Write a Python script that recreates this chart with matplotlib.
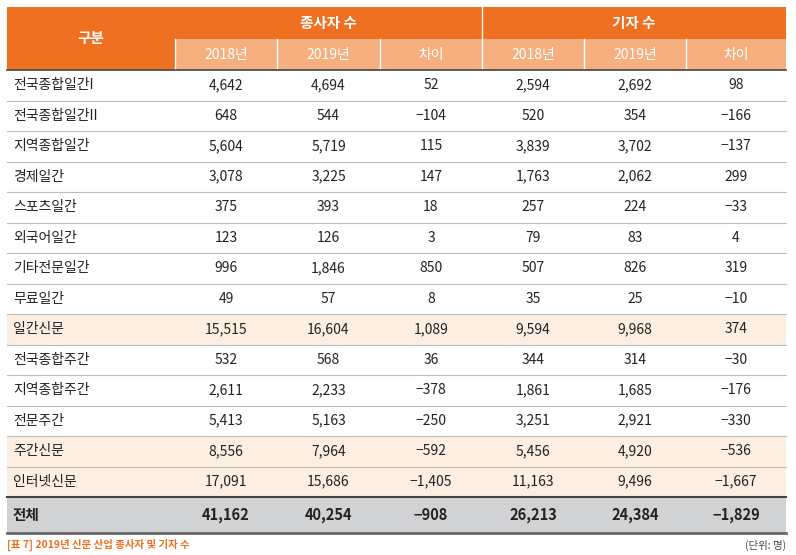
import matplotlib.pyplot as plt
from matplotlib.patches import Rectangle

plt.rcParams['font.family'] = ['Noto Sans CJK KR', 'DejaVu Sans']

categories = ["전국종합일간I", "전국종합일간II", "지역종합일간", "경제일간", "스포츠일간", "외국어일간",
              "기타전문일간", "무료일간", "일간신문", "전국종합주간", "지역종합주간", "전문주간",
              "주간신문", "인터넷신문"]
emp_2018 = ["4,642", "648", "5,604", "3,078", "375", "123", "996", "49", "15,515", "532", "2,611", "5,413", "8,556", "17,091"]
emp_2019 = ["4,694", "544", "5,719", "3,225", "393", "126", "1,846", "57", "16,604", "568", "2,233", "5,163", "7,964", "15,686"]
emp_diff = ["52", "-104", "115", "147", "18", "3", "850", "8", "1,089", "36", "-378", "-250", "-592", "-1,405"]
rep_2018 = ["2,594", "520", "3,839", "1,763", "257", "79", "507", "35", "9,594", "344", "1,861", "3,251", "5,456", "11,163"]
rep_2019 = ["2,692", "354", "3,702", "2,062", "224", "83", "826", "25", "9,968", "314", "1,685", "2,921", "4,920", "9,496"]
rep_diff = ["98", "-166", "-137", "299", "-33", "4", "319", "-10", "374", "-30", "-176", "-330", "-536", "-1,667"]
highlight = ["일간신문", "주간신문", "인터넷신문"]
total = ["전체", "41,162", "40,254", "-908", "26,213", "24,384", "-1,829"]

orange = "#f07022"
light = "#f6b07f"
peach = "#fdeee2"
gray = "#d1d2d4"

fig = plt.figure(figsize=(7.96, 5.55), dpi=100)
ax = fig.add_axes([0, 0, 1, 1])
ax.set_xlim(0, 796)
ax.set_ylim(555, 0)
ax.axis('off')

xs = [7, 175, 277, 380, 482, 584, 686, 786]
h0, h1, h2 = 7, 39, 70
rh = 30.5
tot_top = h2 + rh * len(categories)
tot_bot = tot_top + 36

# header
ax.add_patch(Rectangle((xs[0], h0), xs[-1] - xs[0], h1 - h0, color=orange, lw=0))
ax.add_patch(Rectangle((xs[0], h0), xs[1] - xs[0], h2 - h0, color=orange, lw=0))
ax.add_patch(Rectangle((xs[1], h1), xs[-1] - xs[1], h2 - h1, color=light, lw=0))
ax.text((xs[0] + xs[1]) / 2, (h0 + h2) / 2, "구분", color="white", fontsize=10.5, fontweight="bold", ha="center", va="center")
ax.text((xs[1] + xs[4]) / 2, (h0 + h1) / 2, "종사자 수", color="white", fontsize=10.5, fontweight="bold", ha="center", va="center")
ax.text((xs[4] + xs[7]) / 2, (h0 + h1) / 2, "기자 수", color="white", fontsize=10.5, fontweight="bold", ha="center", va="center")
subs = ["2018년", "2019년", "차이", "2018년", "2019년", "차이"]
for i, s in enumerate(subs):
    ax.text((xs[i + 1] + xs[i + 2]) / 2, (h1 + h2) / 2, s, color="white", fontsize=10, ha="center", va="center")
for x in xs[1:-1]:
    ax.plot([x, x], [h1 if x != xs[4] else h0, h2], color="white", lw=1)
ax.plot([xs[0], xs[-1]], [h2, h2], color="#444444", lw=1.2)

# body
for r, cat in enumerate(categories):
    top = h2 + r * rh
    if cat in highlight:
        ax.add_patch(Rectangle((xs[0], top), xs[-1] - xs[0], rh, color=peach, lw=0))
    cells = [emp_2018[r], emp_2019[r], emp_diff[r], rep_2018[r], rep_2019[r], rep_diff[r]]
    ax.text(xs[0] + 6, top + rh / 2, cat, fontsize=10, ha="left", va="center", color="#222222")
    for i, v in enumerate(cells):
        ax.text((xs[i + 1] + xs[i + 2]) / 2, top + rh / 2, v.replace("-", "−"), fontsize=10, ha="center", va="center", color="#222222")
    if r > 0:
        ax.plot([xs[0], xs[-1]], [top, top], color="#bbbbbb", lw=0.8)

ax.add_patch(Rectangle((xs[0], tot_top), xs[-1] - xs[0], tot_bot - tot_top, color=gray, lw=0))
ax.plot([xs[0], xs[-1]], [tot_top, tot_top], color="#444444", lw=1.5)
ax.plot([xs[0], xs[-1]], [tot_bot, tot_bot], color="#666666", lw=2)
ax.text(xs[0] + 6, (tot_top + tot_bot) / 2, total[0], fontsize=10.5, fontweight="bold", ha="left", va="center", color="#222222")
for i, v in enumerate(total[1:]):
    ax.text((xs[i + 1] + xs[i + 2]) / 2, (tot_top + tot_bot) / 2, v.replace("-", "−"), fontsize=10.5, fontweight="bold", ha="center", va="center", color="#222222")

ax.text(7, 545, "[표 7] 2019년 신문 산업 종사자 및 기자 수", fontsize=7.5, fontweight="bold", color=orange, ha="left", va="center")
ax.text(786, 545, "(단위: 명)", fontsize=7.5, color="#444444", ha="right", va="center")

fig.savefig("out.png", dpi=100)
